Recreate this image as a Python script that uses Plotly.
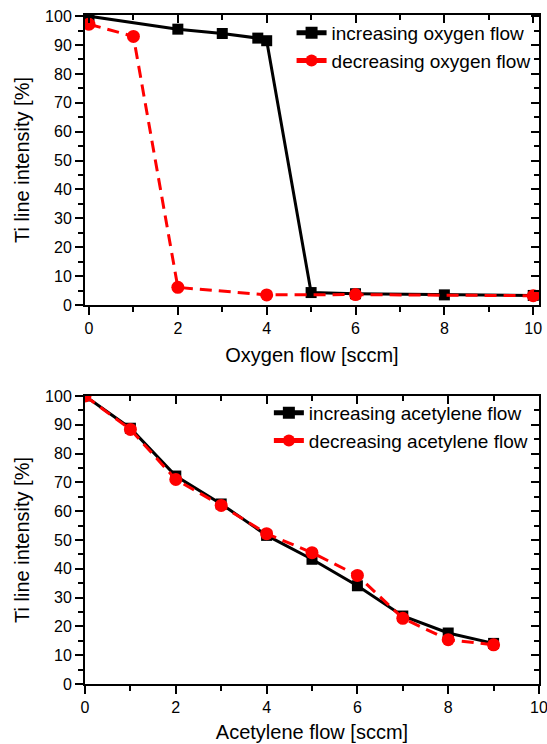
import plotly.graph_objects as go

# Top chart: oxygen
oxy_inc_x = [0, 2, 3, 3.8, 4, 5, 6, 8, 10]
oxy_inc_y = [100, 95.5, 94, 92.4, 91.5, 4.3, 3.9, 3.5, 3.3]
oxy_dec_x = [0, 1, 2, 4, 6, 10]
oxy_dec_y = [97.2, 93, 6.1, 3.5, 3.6, 3.2]

# Bottom chart: acetylene
ac_inc_x = [0, 1, 2, 3, 4, 5, 6, 7, 8, 9]
ac_inc_y = [100, 88.8, 72.2, 62.5, 51.6, 43.3, 34.1, 23.6, 17.7, 14.1]
ac_dec_x = [0, 1, 2, 3, 4, 5, 6, 7, 8, 9]
ac_dec_y = [100, 88.4, 71.0, 62.0, 52.2, 45.6, 37.7, 22.8, 15.4, 13.6]

x_ticks = [0, 2, 4, 6, 8, 10]
y_ticks = [0, 10, 20, 30, 40, 50, 60, 70, 80, 90, 100]

FONT = "Liberation Sans, Arial, sans-serif"
BLACK = "#000000"
RED = "#ff0000"

fig = go.Figure()

def add_pair(xa, ya, xi, yi, xd, yd, name_i, name_d, legend):
    fig.add_trace(go.Scatter(
        x=xi, y=yi, mode="lines+markers", name=name_i, xaxis=xa, yaxis=ya,
        line=dict(color=BLACK, width=3),
        marker=dict(symbol="square", size=11, color=BLACK),
        legend=legend))
    fig.add_trace(go.Scatter(
        x=xd, y=yd, mode="lines+markers", name=name_d, xaxis=xa, yaxis=ya,
        line=dict(color=RED, width=3, dash="12px,7px"),
        marker=dict(symbol="circle", size=13, color=RED),
        legend=legend))

add_pair("x", "y", oxy_inc_x, oxy_inc_y, oxy_dec_x, oxy_dec_y,
         "increasing oxygen flow", "decreasing oxygen flow", "legend")
add_pair("x2", "y2", ac_inc_x, ac_inc_y, ac_dec_x, ac_dec_y,
         "increasing acetylene flow", "decreasing acetylene flow", "legend2")

top_dom = [0.5657, 0.9985]
bot_dom = [0.0, 0.4299]
top_xr = [-0.09, 10.13]
top_yr = [0, 100.4]
bot_xr = [0, 10]
bot_yr = [0, 100]

tickfont = dict(family=FONT, size=16, color=BLACK)
titlefont = dict(family=FONT, size=20, color=BLACK)

def main_axis(rng, dom, anchor, tickvals, title, minor_dtick, standoff):
    return dict(range=rng, domain=dom, anchor=anchor, tickvals=tickvals,
                showline=True, linecolor=BLACK, linewidth=2, mirror=True,
                ticks="outside", ticklen=8, tickwidth=2, tickcolor=BLACK,
                minor=dict(ticks="outside", dtick=minor_dtick, ticklen=5,
                           tickwidth=1.5, tickcolor=BLACK),
                showgrid=False, zeroline=False, tickfont=tickfont,
                automargin=False, ticklabeloverflow="allow",
                title=dict(text=title, font=titlefont, standoff=standoff))

def inner_axis(rng, dom, anchor, overlay, side, tickvals, minor_dtick):
    return dict(range=rng, domain=dom, anchor=anchor, overlaying=overlay,
                side=side, tickvals=tickvals, showticklabels=False,
                showline=False, ticks="inside", ticklen=8, tickwidth=2,
                tickcolor=BLACK, automargin=False,
                minor=dict(ticks="inside", dtick=minor_dtick, ticklen=5,
                           tickwidth=1.5, tickcolor=BLACK),
                showgrid=False, zeroline=False)

fig.update_layout(
    width=547, height=744,
    margin=dict(l=85, r=8, t=14, b=60, autoexpand=False),
    paper_bgcolor="white", plot_bgcolor="white",
    font=dict(family=FONT, color=BLACK),
    showlegend=True,
    xaxis=main_axis(top_xr, [0, 1], "y", x_ticks, "Oxygen flow [sccm]", 1, 12),
    yaxis=main_axis(top_yr, top_dom, "x", y_ticks, "Ti line intensity [%]", 5, 10),
    xaxis2=main_axis(bot_xr, [0, 1], "y2", x_ticks, "Acetylene flow [sccm]", 1, 10),
    yaxis2=main_axis(bot_yr, bot_dom, "x2", y_ticks, "Ti line intensity [%]", 5, 10),
    xaxis3=inner_axis(top_xr, [0, 1], "y", "x", "top", x_ticks, 1),
    yaxis3=inner_axis(top_yr, top_dom, "x", "y", "right", y_ticks, 5),
    xaxis4=inner_axis(bot_xr, [0, 1], "y2", "x2", "top", x_ticks, 1),
    yaxis4=inner_axis(bot_yr, bot_dom, "x2", "y2", "right", y_ticks, 5),
    legend=dict(x=0.455, y=1.0, xanchor="left", yanchor="top",
                bgcolor="rgba(0,0,0,0)", font=dict(family=FONT, size=19, color=BLACK),
                tracegroupgap=0, itemsizing="constant"),
    legend2=dict(x=0.405, y=0.433, xanchor="left", yanchor="top",
                 bgcolor="rgba(0,0,0,0)", font=dict(family=FONT, size=19, color=BLACK),
                 tracegroupgap=0, itemsizing="constant"),
)

# invisible traces so overlay axes render
for xa, ya, xr, yr in [("x3", "y3", top_xr, top_yr), ("x4", "y4", bot_xr, bot_yr)]:
    fig.add_trace(go.Scatter(x=[xr[0]], y=[yr[0]], xaxis=xa, yaxis=ya,
                             mode="markers", marker=dict(opacity=0),
                             showlegend=False, hoverinfo="skip"))

fig.write_html("out.html", config={"displayModeBar": False},
               post_script="document.body.style.margin='0';document.body.style.padding='0';")
